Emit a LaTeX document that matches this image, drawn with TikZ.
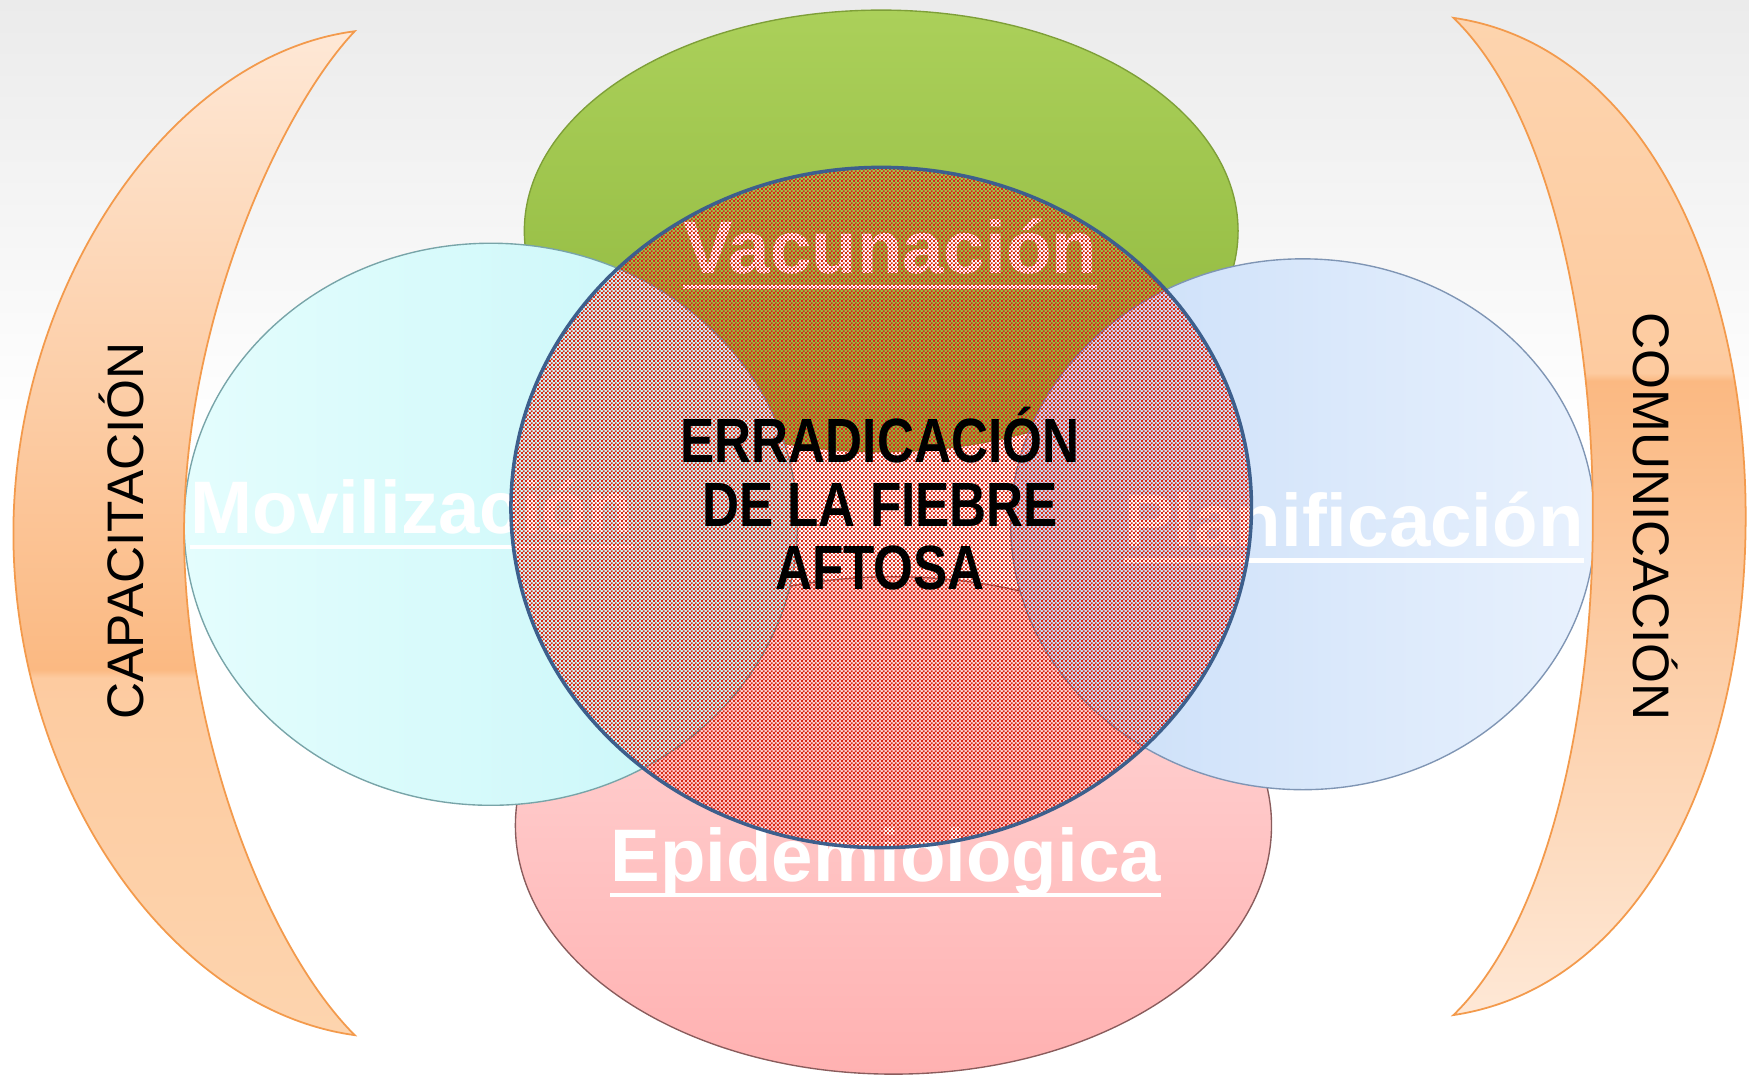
\documentclass[tikz,border=0pt]{standalone}
\usepackage{fontspec}
\setmainfont{Liberation Sans}
\usetikzlibrary{shapes.geometric,patterns.meta}

\definecolor{bgtop}{HTML}{EBEBEB}
\definecolor{lcA}{HTML}{FDD4AE}
\definecolor{lcB}{HTML}{FDCBA0}
\definecolor{lcC}{HTML}{FBB982}
\definecolor{lcD}{HTML}{FEE8D6}
\definecolor{cresedge}{HTML}{F39A4C}
\definecolor{greenT}{HTML}{ABD05A}
\definecolor{greenB}{HTML}{8DB53B}
\definecolor{greenE}{HTML}{7E9F38}
\definecolor{cyanL}{HTML}{E4FDFD}
\definecolor{cyanR}{HTML}{C6F6F8}
\definecolor{cyanE}{HTML}{78A4A8}
\definecolor{blueL}{HTML}{C8DDF8}
\definecolor{blueR}{HTML}{E8F1FD}
\definecolor{blueE}{HTML}{7F95B4}
\definecolor{pinkT}{HTML}{FFDADA}
\definecolor{pinkB}{HTML}{FFB1B1}
\definecolor{pinkE}{HTML}{8A5C5C}
\definecolor{patred}{HTML}{D82A18}
\definecolor{coreE}{HTML}{3D5F8C}

\pgfdeclareverticalshading{bgshade}{100bp}{color(0bp)=(white); color(55bp)=(white); color(75bp)=(bgtop); color(100bp)=(bgtop)}
\pgfdeclareverticalshading{lcres}{100bp}{color(0bp)=(lcA); color(25bp)=(lcA); color(42.8bp)=(lcB); color(43.2bp)=(lcC); color(75bp)=(lcD); color(100bp)=(lcD)}
\pgfdeclareverticalshading{rcres}{100bp}{color(0bp)=(lcD); color(25bp)=(lcD); color(56.8bp)=(lcC); color(57.2bp)=(lcB); color(75bp)=(lcA); color(100bp)=(lcA)}

\pgfdeclarepattern{
  name=redcheck,
  type=uncolored,
  bottom left={\pgfpoint{0pt}{0pt}},
  top right={\pgfpoint{2pt}{2pt}},
  tile size={\pgfpoint{2pt}{2pt}},
  code={
    \pgfpathrectangle{\pgfpoint{0pt}{0pt}}{\pgfpoint{0.93pt}{0.93pt}}
    \pgfpathrectangle{\pgfpoint{1pt}{1pt}}{\pgfpoint{0.93pt}{0.93pt}}
    \pgfusepath{fill}
  }
}

\tikzset{
  petal/.style={ellipse, inner sep=0pt, line width=0.7pt},
  petallabel/.style={font=\fontsize{38}{40}\selectfont\bfseries, text=white, inner sep=0pt},
  uline/.style={white, line width=2.3pt},
  crescent/.style={draw=cresedge, line width=0.9pt},
  sidelabel/.style={font=\fontsize{26.2}{28}\selectfont, text=black, inner sep=0pt},
}

\begin{document}
\begin{tikzpicture}[x=0.02cm, y=-0.02cm]
\useasboundingbox (0,0) rectangle (1568,965);
\fill[shading=bgshade] (0,0) rectangle (1568,965);

% petals
\node[petal, draw=greenE, top color=greenT, bottom color=greenB,
      minimum width=12.8cm, minimum height=7.92cm] (vac) at (790,207) {};
\node[petal, draw=pinkE, top color=pinkT, bottom color=pinkB,
      minimum width=13.56cm, minimum height=8.92cm] (epi) at (801,740) {};
\node[petal, draw=cyanE, left color=cyanL, right color=cyanR,
      minimum width=11cm, minimum height=10.08cm] (mov) at (440,470) {};
\node[petal, draw=blueE, left color=blueL, right color=blueR,
      minimum width=10.48cm, minimum height=9.52cm] (pla) at (1168,470) {};

% petal labels
\node[petallabel, anchor=base] (tvac) at (798,245) {Vacunación};
\node[petallabel, anchor=base west] (tmov) at (170,478) {Movilización};
\node[petallabel, anchor=base east] (tpla) at (1420,490) {Planificación};
\node[petallabel, anchor=base] (tepi) at (794,790) {Epidemiologica};
\draw[uline] ([yshift=-7pt]tvac.base west) -- ([yshift=-7pt]tvac.base east);
\draw[uline] ([yshift=-7pt]tmov.base west) -- ([yshift=-7pt]tmov.base east);
\draw[uline] ([yshift=-7pt]tpla.base west) -- ([yshift=-7pt]tpla.base east);
\draw[uline] ([yshift=-7pt]tepi.base west) -- ([yshift=-7pt]tepi.base east);

% crescents
\path[crescent, shading=lcres]
  (318,28) .. controls (150,50) and (12,260) .. (12,478)
  .. controls (12,700) and (150,905) .. (318,928)
  .. controls (240,850) and (165,660) .. (165,478)
  .. controls (165,290) and (250,100) .. (318,28) -- cycle;
\path[crescent, shading=rcres]
  (1303,16) .. controls (1470,40) and (1565,240) .. (1565,463)
  .. controls (1565,690) and (1470,885) .. (1303,910)
  .. controls (1385,830) and (1428,650) .. (1428,463)
  .. controls (1428,280) and (1385,95) .. (1303,16) -- cycle;
\node[sidelabel, rotate=90] (cap) at (109,476) {CAPACITACIÓN};
\node[sidelabel, rotate=-90] (com) at (1484,463) {COMUNICACIÓN};

% core
\node[ellipse, inner sep=0pt, minimum width=13.28cm, minimum height=12.2cm,
      draw=coreE, line width=1.8pt, pattern=redcheck, pattern color=patred] (core) at (790,455) {};
\node[font=\fontsize{31.9}{32.4}\selectfont\bfseries, align=center, xscale=0.82, inner sep=0pt]
  (title) at (789,447) {ERRADICACIÓN\\DE LA FIEBRE\\AFTOSA};
\end{tikzpicture}
\end{document}
